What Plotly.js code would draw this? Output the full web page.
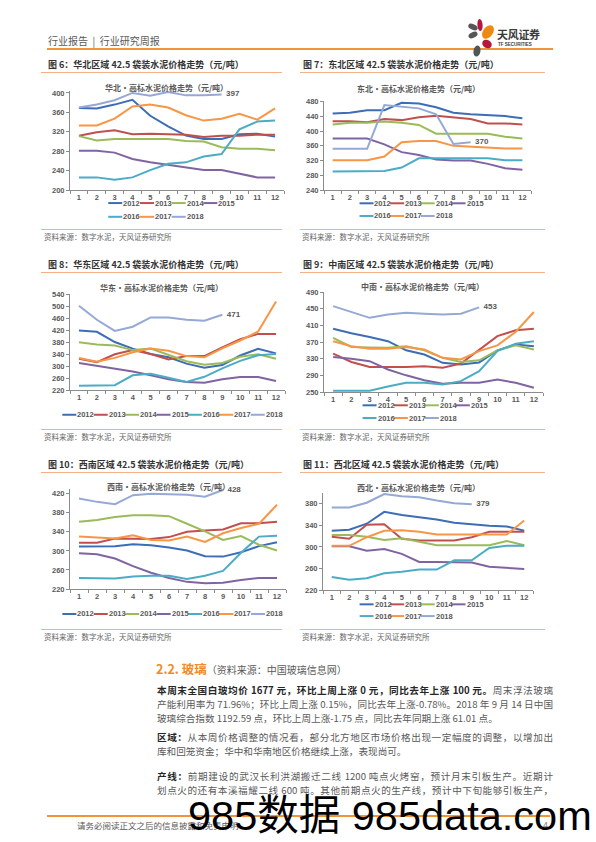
<!DOCTYPE html>
<html><head><meta charset="utf-8">
<script src="https://cdn.plot.ly/plotly-3.0.1.min.js"></script>
<style>
body{margin:0;padding:0;background:#fff;}
#page{position:relative;width:596px;height:842px;overflow:hidden;background:#fff;font-family:"Noto Sans CJK SC","Noto Sans",sans-serif;}
.abs{position:absolute;white-space:nowrap;}
.cap{position:absolute;white-space:nowrap;font-size:9px;font-weight:bold;color:#333;line-height:12px;}
.src{position:absolute;white-space:nowrap;font-size:7.5px;color:#666;line-height:10px;}
.hl{position:absolute;height:1px;background:#F4B183;}
.chart{position:absolute;}
.ln{position:absolute;left:157px;width:396px;font-size:9.6px;line-height:14px;color:#595959;text-align:justify;text-align-last:justify;}
.ln.last{text-align-last:left;}
.ln b{color:#262626;}
</style>
</head><body>
<div id="page">
  <!-- header -->
  <div class="abs" style="left:48px;top:34px;font-size:10px;color:#595959;line-height:14px;">行业报告 &nbsp;|&nbsp; 行业研究周报</div>
  <div class="abs" style="left:47px;top:48px;width:506px;height:2px;background:#F0943A;"></div>
  <svg class="abs" style="left:464px;top:17px;" width="32" height="42" viewBox="0 0 32 42">
    <ellipse cx="16" cy="8" rx="2.6" ry="6" fill="#B5173C" transform="rotate(-5 16 8)"/>
    <ellipse cx="24" cy="15" rx="5" ry="7.5" fill="#EE8A12" transform="rotate(35 24 15)"/>
    <ellipse cx="9" cy="10" rx="5" ry="2.8" fill="#555" transform="rotate(25 9 10)"/>
    <ellipse cx="9" cy="18" rx="4.8" ry="2.8" fill="#555" transform="rotate(-25 9 18)"/>
    <ellipse cx="23" cy="27" rx="5" ry="4" fill="#B5173C" transform="rotate(30 23 27)"/>
    <ellipse cx="13" cy="34" rx="3.5" ry="5.5" fill="#555" transform="rotate(10 13 34)"/>
  </svg>
  <div class="abs" style="left:497px;top:27px;font-size:11px;font-weight:bold;color:#3a3a3a;line-height:14px;letter-spacing:-0.3px;">天风证券</div>
  <div class="abs" style="left:498px;top:42px;font-size:4.5px;font-weight:bold;color:#3a3a3a;line-height:6px;font-family:'Liberation Sans';">TF SECURITIES</div>

  <!-- figure captions and lines -->
  <div class="cap" style="left:48px;top:59px;">图 6：华北区域 42.5 袋装水泥价格走势（元/吨）</div>
  <div class="cap" style="left:303px;top:59px;">图 7：东北区域 42.5 袋装水泥价格走势（元/吨）</div>
  <div class="hl" style="left:41px;top:72px;width:241px;"></div>
  <div class="hl" style="left:300px;top:72px;width:245px;"></div>
  <div class="hl" style="left:41px;top:229px;width:241px;"></div>
  <div class="hl" style="left:300px;top:229px;width:245px;"></div>
  <div class="src" style="left:44px;top:232px;">资料来源：数字水泥，天风证券研究所</div>
  <div class="src" style="left:302px;top:232px;">资料来源：数字水泥，天风证券研究所</div>

  <div class="cap" style="left:48px;top:259px;">图 8：华东区域 42.5 袋装水泥价格走势（元/吨）</div>
  <div class="cap" style="left:303px;top:259px;">图 9：中南区域 42.5 袋装水泥价格走势（元/吨）</div>
  <div class="hl" style="left:41px;top:272px;width:241px;"></div>
  <div class="hl" style="left:300px;top:272px;width:245px;"></div>
  <div class="hl" style="left:41px;top:429px;width:241px;"></div>
  <div class="hl" style="left:300px;top:429px;width:245px;"></div>
  <div class="src" style="left:44px;top:432px;">资料来源：数字水泥，天风证券研究所</div>
  <div class="src" style="left:302px;top:432px;">资料来源：数字水泥，天风证券研究所</div>

  <div class="cap" style="left:48px;top:459px;">图 10：西南区域 42.5 袋装水泥价格走势（元/吨）</div>
  <div class="cap" style="left:303px;top:459px;">图 11：西北区域 42.5 袋装水泥价格走势（元/吨）</div>
  <div class="hl" style="left:41px;top:472px;width:241px;"></div>
  <div class="hl" style="left:300px;top:472px;width:245px;"></div>
  <div class="hl" style="left:41px;top:629px;width:241px;"></div>
  <div class="hl" style="left:300px;top:629px;width:245px;"></div>
  <div class="src" style="left:44px;top:632px;">资料来源：数字水泥，天风证券研究所</div>
  <div class="src" style="left:302px;top:632px;">资料来源：数字水泥，天风证券研究所</div>

  <div id="c6" class="chart"></div>
  <div id="c7" class="chart"></div>
  <div id="c8" class="chart"></div>
  <div id="c9" class="chart"></div>
  <div id="c10" class="chart"></div>
  <div id="c11" class="chart"></div>

  <!-- text section -->
  <div class="abs" style="left:156px;top:659px;line-height:16px;"><span style="font-size:12.5px;font-weight:bold;color:#F08C28;">2.2. 玻璃</span><span style="font-size:10px;color:#595959;">（资料来源：中国玻璃信息网）</span></div>
  <div class="ln" style="top:683px;"><b>本周末全国白玻均价 1677 元，环比上周上涨 0 元，同比去年上涨 100 元。</b>周末浮法玻璃</div>
  <div class="ln" style="top:697px;">产能利用率为 71.96%；环比上周上涨 0.15%，同比去年上涨-0.78%。2018 年 9 月 14 日中国</div>
  <div class="ln last" style="top:711px;">玻璃综合指数 1192.59 点，环比上周上涨-1.75 点，同比去年同期上涨 61.01 点。</div>
  <div class="ln" style="top:730px;"><b>区域：</b>从本周价格调整的情况看，部分北方地区市场价格出现一定幅度的调整，以增加出</div>
  <div class="ln last" style="top:744px;">库和回笼资金；华中和华南地区价格继续上涨，表现尚可。</div>
  <div class="ln" style="top:769px;"><b>产线：</b>前期建设的武汉长利洪湖搬迁二线 1200 吨点火烤窑，预计月末引板生产。近期计</div>
  <div class="ln" style="top:783px;">划点火的还有本溪福耀二线 600 吨。其他前期点火的生产线，预计中下旬能够引板生产，</div>

  <!-- footer -->
  <div class="abs" style="left:47px;top:815px;width:503px;height:2px;background:#F0943A;"></div>
  <div class="abs" style="left:77px;top:820px;font-size:8.5px;color:#595959;line-height:11px;">请务必阅读正文之后的信息披露和免责申明</div>
  <div class="abs" style="left:543px;top:820px;font-size:9px;color:#888;line-height:11px;">4</div>
  <div class="abs" style="left:188px;top:795px;font-size:41.5px;line-height:41.5px;color:#000;font-family:'Liberation Sans','Noto Sans CJK SC',sans-serif;">985数据 985data.com</div>
</div>

<script>
// ---- data ----
const months = ['1','2','3','4','5','6','7','8','9','10','11','12'];
const years = ['2012','2013','2014','2015','2016','2017','2018'];
const colors = ['#3D6DB5','#C0504D','#9BBB59','#8064A2','#4BACC6','#F79646','#94A9D6'];

const huabei = [
  [369,368,376,386,353,331,312,305,305,315,316,310],
  [312,319,323,315,316,315,314,309,312,312,314,314],
  [311,302,305,305,305,305,301,300,288,285,285,282],
  [281,281,277,264,257,252,246,241,241,234,226,226],
  [226,226,221,226,241,254,257,269,274,325,341,343],
  [333,333,347,372,376,370,354,343,347,357,345,368],
  [370,376,385,400,394,402,395,395,397]
];
const dongbei = [
  [448,450,457,457,477,475,465,450,446,444,441,435],
  [427,427,424,433,430,438,442,437,433,421,421,418],
  [418,423,423,426,423,417,393,393,393,393,385,380],
  [380,380,380,364,343,335,323,320,320,311,299,295],
  [290,290,290,292,301,326,326,326,326,326,321,321],
  [321,321,321,331,370,373,373,360,357,356,353,353],
  [352,352,352,471,466,462,446,365,370]
];
const huadong = [
  [418,414,380,358,340,329,308,294,303,335,357,342],
  [324,313,339,353,340,322,333,333,362,389,407,407],
  [379,372,368,353,358,336,316,304,310,331,339,324],
  [310,301,291,282,269,256,247,244,256,263,263,250],
  [234,234,236,269,274,261,247,264,292,317,336,340],
  [327,314,327,346,358,351,333,329,359,385,415,515],
  [501,454,417,431,462,462,454,451,471]
];
const zhongnan = [
  [402,391,382,372,350,340,320,316,321,350,364,360],
  [342,322,310,310,310,312,308,318,350,384,398,402],
  [380,358,357,356,360,350,332,322,326,350,362,352],
  [334,330,324,304,290,278,270,272,272,280,272,260],
  [253,253,253,263,272,272,268,276,300,348,366,372],
  [372,360,354,354,358,352,332,328,348,362,394,442],
  [456,442,428,436,440,438,436,438,453]
];
const xinan = [
  [309,309,310,314,312,307,301,289,288,297,310,318],
  [317,317,326,325,325,329,340,343,345,358,358,361],
  [361,365,371,375,375,373,357,341,323,331,313,301],
  [295,293,284,268,254,243,235,232,233,239,243,243],
  [243,243,242,246,248,248,241,248,258,296,330,332],
  [330,328,326,333,323,322,330,319,337,348,357,397],
  [410,403,398,417,420,419,418,414,428]
];
const xibei = [
  [330,332,343,365,359,355,351,345,342,339,338,330],
  [319,315,341,342,315,312,312,312,318,328,328,328],
  [322,322,319,313,316,310,303,303,303,303,311,303],
  [301,301,293,296,287,272,272,271,271,263,261,259],
  [244,239,242,251,254,258,258,275,275,298,302,302],
  [302,302,318,330,331,328,323,323,323,323,323,349],
  [373,373,382,398,394,392,386,381,379]
];

const chartTitles = ['华北·高标水泥价格走势（元/吨）','东北·高标水泥价格走势（元/吨）','华东·高标水泥价格走势（元/吨）',
  '中南·高标水泥价格走势（元/吨）','西南·高标水泥价格走势（元/吨）','西北·高标水泥价格走势（元/吨）'];

// ---- drawing ----
const gray = '#595959';
const axisCol = '#8C8C8C';

function drawChart(id, series, title, cfg) {
  const box = cfg.box, plot = cfg.plot;
  const pw = plot.x1 - plot.x0, ph = plot.yb - plot.yt;
  const px = x => (x - plot.x0) / pw;
  const py = y => (plot.yb - y) / ph;
  const el = document.getElementById(id);
  el.style.left = box.left + 'px'; el.style.top = box.top + 'px';
  el.style.width = box.w + 'px'; el.style.height = box.h + 'px';

  const traces = series.map((vals, i) => {
    const last = i === series.length - 1;
    const t = {
      x: months.slice(0, vals.length), y: vals, type: 'scatter',
      mode: last ? 'lines+text' : 'lines',
      line: {color: colors[i], width: 2}, showlegend: false, cliponaxis: false, hoverinfo: 'skip'
    };
    if (last) {
      t.text = vals.map((v, j) => j === vals.length - 1 ? '  ' + v : '');
      t.textposition = 'middle right';
      t.textfont = {family: 'Liberation Sans', size: 8, color: gray, weight: 'bold'};
    }
    return t;
  });

  const shapes = [], annotations = [];
  annotations.push({xref: 'paper', yref: 'paper', x: px(cfg.titleX), y: py(cfg.titleY), xanchor: 'center', yanchor: 'middle',
    text: '<b>' + title + '</b>', showarrow: false, font: {family: 'Noto Sans CJK SC', size: 8, color: gray}});
  let k = 0;
  cfg.legend.forEach(row => {
    row.xs.forEach(x => {
      const i = k++;
      shapes.push({type: 'line', xref: 'paper', yref: 'paper', x0: px(x), x1: px(x + 14), y0: py(row.y), y1: py(row.y),
        line: {color: colors[i], width: 2}});
      annotations.push({xref: 'paper', yref: 'paper', x: px(x + 14), y: py(row.y), xanchor: 'left', yanchor: 'middle',
        text: years[i], showarrow: false, borderpad: 0,
        font: {family: 'Liberation Sans', size: 7.5, color: gray, weight: 'bold'}});
    });
  });

  const layout = {
    width: box.w, height: box.h,
    margin: {l: plot.x0 - box.left, r: box.left + box.w - plot.x1, t: plot.yt - box.top, b: box.top + box.h - plot.yb, pad: 0},
    paper_bgcolor: 'rgba(0,0,0,0)', plot_bgcolor: 'rgba(0,0,0,0)',
    showlegend: false,
    xaxis: {type: 'category', range: [-0.5, 11.5], showline: true, linecolor: axisCol, linewidth: 1, tickangle: 0,
      ticks: 'outside', ticklen: 3, tickcolor: axisCol, tickson: 'boundaries', showgrid: false, zeroline: false,
      tickfont: {family: 'Liberation Sans', size: 7.5, color: gray, weight: 'bold'}},
    yaxis: {range: cfg.yr, tickvals: cfg.yt, ticktext: cfg.yt.map(String), showline: true, linecolor: axisCol, linewidth: 1,
      ticks: 'outside', ticklen: 3, tickcolor: axisCol, showgrid: false, zeroline: false,
      tickfont: {family: 'Liberation Sans', size: 7.5, color: gray, weight: 'bold'}},
    shapes: shapes, annotations: annotations
  };
  Plotly.newPlot(el, traces, layout, {staticPlot: true, displayModeBar: false});
}

function ticks(a, b, s) { const r = []; for (let v = a; v <= b; v += s) r.push(v); return r; }

drawChart('c6', huabei, chartTitles[0], {
  box: {left: 40, top: 78, w: 255, h: 148}, plot: {x0: 70.1, x1: 283.9, yt: 91.4, yb: 190},
  yr: [200, 404], yt: ticks(200, 400, 40), titleX: 167, titleY: 88,
  legend: [{y: 203, xs: [108.3, 140, 171.7, 203.3]}, {y: 216.7, xs: [108.3, 140, 171.7]}]
});
drawChart('c7', dongbei, chartTitles[1], {
  box: {left: 300, top: 78, w: 260, h: 148}, plot: {x0: 323.65, x1: 531.35, yt: 100.96, yb: 190},
  yr: [240, 482], yt: ticks(240, 480, 40), titleX: 418, titleY: 88.3,
  legend: [{y: 203.3, xs: [359.3, 390, 420.7, 451.7]}, {y: 216, xs: [359.3, 390, 420.7]}]
});
drawChart('c8', huadong, chartTitles[2], {
  box: {left: 40, top: 276, w: 255, h: 150}, plot: {x0: 70.36, x1: 284.94, yt: 294.3, yb: 389.7},
  yr: [220, 540], yt: ticks(220, 540, 40), titleX: 161.7, titleY: 288.3,
  legend: [{y: 414.3, xs: [62.7, 94, 125.3, 156.7, 188, 219.3, 250.7]}]
});
drawChart('c9', zhongnan, chartTitles[3], {
  box: {left: 300, top: 276, w: 260, h: 150}, plot: {x0: 324.18, x1: 543.12, yt: 291.7, yb: 391.7},
  yr: [250, 490], yt: ticks(250, 490, 40), titleX: 423, titleY: 286,
  legend: [{y: 405, xs: [362.7, 394, 425, 456]}, {y: 417.7, xs: [362.7, 394, 425]}]
});
drawChart('c10', xinan, chartTitles[4], {
  box: {left: 40, top: 476, w: 255, h: 150}, plot: {x0: 70.33, x1: 285.67, yt: 489.2, yb: 589.3},
  yr: [220, 430], yt: ticks(220, 420, 40), titleX: 168.3, titleY: 486.7,
  legend: [{y: 614.3, xs: [62.7, 94, 125.3, 156.7, 188, 219.3, 250.7]}]
});
drawChart('c11', xibei, chartTitles[5], {
  box: {left: 300, top: 476, w: 260, h: 150}, plot: {x0: 322.5, x1: 533.5, yt: 493.25, yb: 590},
  yr: [220, 400], yt: ticks(220, 380, 40), titleX: 418.3, titleY: 487.7,
  legend: [{y: 604.3, xs: [359.3, 390, 420.7, 451.7]}, {y: 616, xs: [359.3, 390, 420.7]}]
});
</script>
</body></html>
